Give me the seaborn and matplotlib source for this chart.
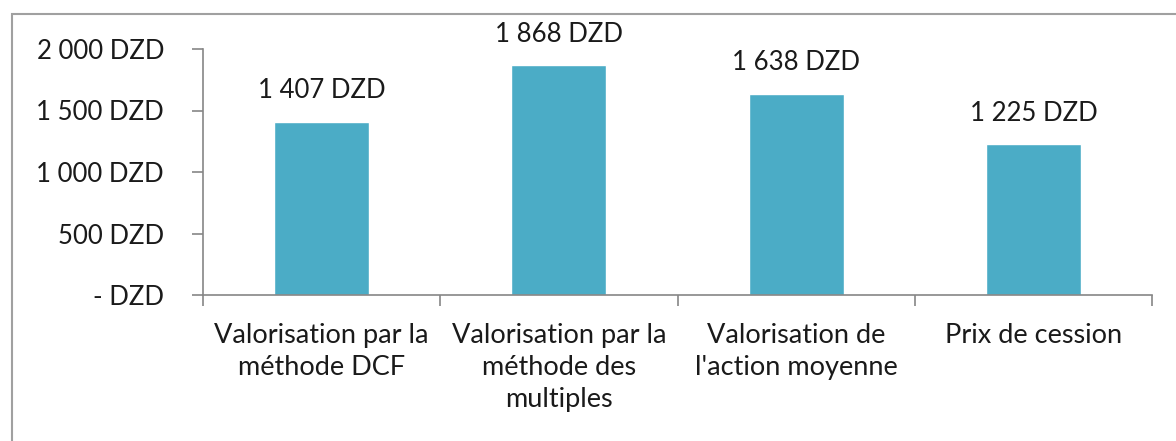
import matplotlib
matplotlib.use("Agg")
import numpy as np
import pandas as pd
import seaborn as sns
from matplotlib import pyplot as plt
from matplotlib.patches import Rectangle
from matplotlib.ticker import FuncFormatter

categories = ["Valorisation par la\nméthode DCF",
              "Valorisation par la\nméthode des\nmultiples",
              "Valorisation de\nl'action moyenne",
              "Prix de cession"]
values = [1407, 1868, 1638, 1225]
y_ticks = [0, 500, 1000, 1500, 2000]


def fmt_dzd(v, pos=None):
    if v == 0:
        return "- DZD"
    return "{:,.0f} DZD".format(v).replace(",", " ")


sns.set_style("white")
plt.rcParams['font.family'] = ['Lato', 'DejaVu Sans']

df = pd.DataFrame({"cat": categories, "val": values})

fig = plt.figure(figsize=(11.76, 4.41), dpi=100)
ax = fig.add_axes([203 / 1176, 1 - 295 / 441, (1152 - 203) / 1176, (295 - 49) / 441])

sns.barplot(data=df, x="cat", y="val", color="#4bacc6", saturation=1, width=0.4, ax=ax)

ax.set_ylim(0, 2000)
ax.set_xlim(-0.5, len(categories) - 0.5)
ax.set_yticks(y_ticks)
ax.yaxis.set_major_formatter(FuncFormatter(fmt_dzd))
ax.set_xlabel("")
ax.set_ylabel("")

for i, v in enumerate(values):
    ax.text(i, v + 150, fmt_dzd(v), ha="center", va="bottom", fontsize=18.5, color="#1a1a1a")

axis_col = "#868686"
for side in ["top", "right"]:
    ax.spines[side].set_visible(False)
for side in ["left", "bottom"]:
    ax.spines[side].set_color(axis_col)
    ax.spines[side].set_linewidth(1.2)

ax.set_xticks(np.arange(len(categories) + 1) - 0.5, minor=True)
ax.tick_params(axis="x", which="major", length=0, labelsize=19.5, pad=20, colors="#1a1a1a")
ax.tick_params(axis="x", which="minor", length=8, width=1.2, color=axis_col, direction="out")
ax.tick_params(axis="y", length=8, width=1.2, color=axis_col, direction="out",
               labelsize=18.5, labelcolor="#1a1a1a", pad=20)
ax.tick_params(axis="both", which="both", bottom=True, left=True)
ax.xaxis.set_tick_params(which="major", bottom=True, length=0)
for lbl in ax.get_xticklabels():
    lbl.set_linespacing(1.35)

# chart border like the spreadsheet frame
fig.patches.append(Rectangle((12 / 1176, -0.2), 1.2, 1 - 14 / 441 + 0.2,
                             transform=fig.transFigure, fill=False,
                             edgecolor="#a0a0a0", linewidth=1.5, zorder=-1))

fig.savefig("out.png", dpi=100)
